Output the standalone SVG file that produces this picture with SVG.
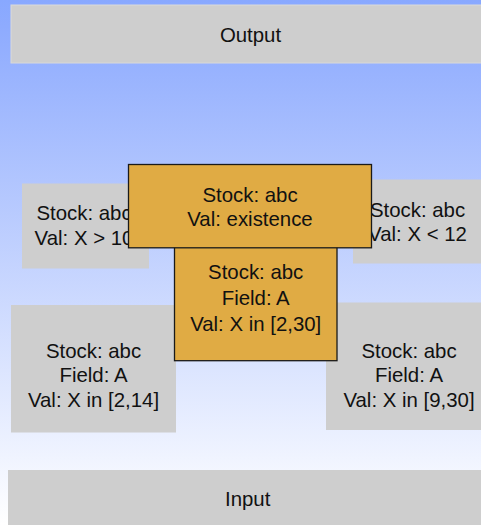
<svg xmlns="http://www.w3.org/2000/svg" width="481" height="525" viewBox="0 0 481 525">
<defs>
<linearGradient id="bg" x1="0" y1="0" x2="0" y2="1">
<stop offset="0" stop-color="#88a8ff"/>
<stop offset="0.05" stop-color="#8eabfe"/>
<stop offset="1" stop-color="#ffffff"/>
</linearGradient>
</defs>
<style>
.gray{fill:#cecece}
.orange{fill:#e0ab44;stroke:#1a1a1a;stroke-width:1.3}
text{font-family:"Liberation Sans",Arial,sans-serif;font-size:20.4px;fill:#111;text-anchor:middle}
</style>
<rect x="0" y="0" width="481" height="525" fill="url(#bg)"/>
<g id="connectors"/>
<g id="output">
<rect class="gray" x="11" y="5" width="480" height="58" stroke="#d9d9d9" stroke-width="1"/>
<text x="250.5" y="41.5">Output</text>
</g>
<g id="input">
<rect class="gray" x="8" y="470" width="480" height="60"/>
<text x="247.7" y="505.5">Input</text>
</g>
<g id="left-top">
<rect class="gray" x="22" y="183.5" width="127" height="85"/>
<text x="84" y="219.5">Stock: abc</text>
<text x="84" y="245">Val: X &gt; 10</text>
</g>
<g id="right-top">
<rect class="gray" x="353" y="179.5" width="128" height="84"/>
<text x="417.5" y="216.5">Stock: abc</text>
<text x="417.5" y="241">Val: X &lt; 12</text>
</g>
<g id="left-bottom">
<rect class="gray" x="11" y="305" width="165" height="127.5"/>
<text x="93.5" y="357.5">Stock: abc</text>
<text x="93.5" y="382.2">Field: A</text>
<text x="93.5" y="406.7">Val: X in [2,14]</text>
</g>
<g id="right-bottom">
<rect class="gray" x="326" y="302.5" width="166" height="127.5"/>
<text x="409" y="358.2">Stock: abc</text>
<text x="409" y="382.3">Field: A</text>
<text x="409" y="406.7">Val: X in [9,30]</text>
</g>
<g id="center-field">
<rect class="orange" x="174.5" y="240" width="162.5" height="120.7"/>
<text x="255.7" y="279.3">Stock: abc</text>
<text x="255.7" y="305">Field: A</text>
<text x="255.7" y="330.7">Val: X in [2,30]</text>
</g>
<g id="center-existence">
<rect class="orange" x="128.5" y="164.5" width="243" height="83.3"/>
<text x="250" y="201.8">Stock: abc</text>
<text x="250" y="225.6">Val: existence</text>
</g>
</svg>
